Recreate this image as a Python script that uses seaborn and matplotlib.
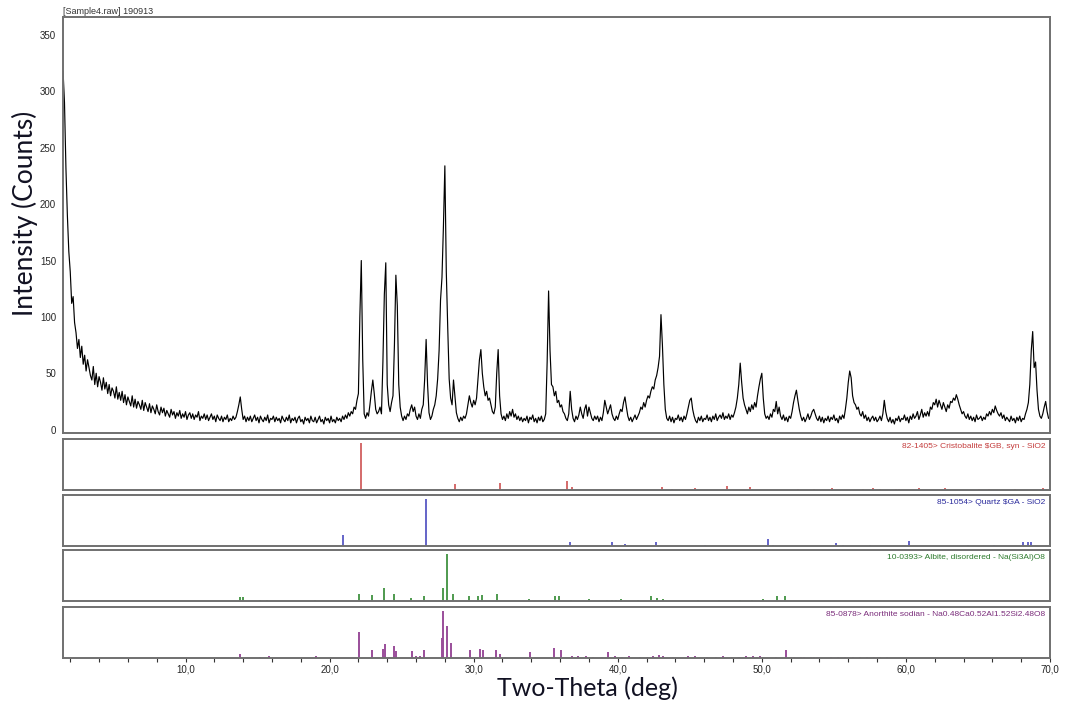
import numpy as np
import pandas as pd
import seaborn as sns
import matplotlib.pyplot as plt

# scan: 1.5 .. 69.9 deg, step 0.1 (one row = 1 deg)
scan_start = 1.5
scan_step = 0.1
counts = [
    318, 290, 232, 190, 158, 140, 112, 118, 95, 86,     # 1.5
    72, 80, 64, 74, 58, 66, 52, 62, 55, 48,             # 2.5
    44, 56, 40, 50, 38, 47, 42, 35, 46, 36,             # 3.5
    42, 32, 40, 30, 37, 34, 28, 38, 27, 33,             # 4.5
    26, 34, 24, 31, 22, 29, 25, 21, 30, 20,             # 5.5
    27, 19, 25, 22, 18, 26, 17, 24, 20, 16,             # 6.5
    23, 15, 21, 18, 14, 22, 16, 13, 20, 15,             # 7.5
    19, 12, 17, 14, 11, 18, 13, 16, 10, 15,             # 8.5
    12, 17, 10, 14, 11, 16, 9, 13, 15, 10,              # 9.5
    14, 9, 13, 11, 16, 8, 12, 10, 14, 9,                # 10.5
    13, 8, 11, 14, 9, 12, 7, 13, 10, 8,                 # 11.5
    12, 7, 11, 9, 13, 7, 10, 8, 12, 9,                  # 12.5
    11, 16, 22, 29, 18, 9, 12, 7, 11, 8,                # 13.5
    12, 7, 10, 13, 8, 11, 6, 12, 9, 7,                  # 14.5
    11, 8, 13, 6, 10, 9, 12, 7, 11, 8,                  # 15.5
    10, 6, 12, 9, 7, 11, 8, 13, 6, 10,                  # 16.5
    8, 11, 6, 10, 12, 7, 9, 5, 11, 8,                   # 17.5
    10, 6, 12, 8, 7, 11, 6, 9, 12, 7,                   # 18.5
    9, 5, 11, 8, 10, 6, 12, 7, 9, 6,                    # 19.5
    11, 8, 10, 7, 12, 9, 13, 10, 15, 12,                # 20.5
    16, 14, 20, 18, 26, 32, 100, 150, 62, 14,           # 21.5
    10, 15, 12, 22, 34, 44, 32, 18, 14, 16,             # 22.5
    20, 14, 60, 120, 148, 40, 22, 16, 24, 30,           # 23.5
    75, 137, 110, 40, 20, 12, 8, 12, 9, 14,             # 24.5
    12, 18, 22, 16, 20, 12, 9, 14, 10, 18,              # 25.5
    22, 45, 80, 40, 15, 9, 12, 18, 22, 30,              # 26.5
    45, 70, 115, 135, 180, 234, 140, 90, 45, 28,        # 27.5
    22, 44, 30, 15, 10, 7, 11, 8, 12, 10,               # 28.5
    14, 22, 30, 24, 20, 26, 22, 28, 45, 62,             # 29.5
    71, 50, 38, 30, 34, 26, 28, 22, 16, 14,             # 30.5
    20, 50, 71, 30, 14, 9, 12, 8, 14, 10,               # 31.5
    16, 12, 18, 11, 14, 9, 12, 8, 11, 7,                # 32.5
    10, 8, 12, 6, 11, 9, 13, 7, 10, 6,                  # 33.5
    11, 8, 12, 7, 9, 14, 60, 123, 70, 40,               # 34.5
    38, 30, 34, 24, 26, 20, 22, 16, 14, 10,             # 35.5
    8, 14, 34, 18, 10, 7, 12, 9, 13, 20,                # 36.5
    14, 10, 18, 22, 12, 20, 15, 10, 8, 12,              # 37.5
    9, 12, 7, 11, 8, 15, 26, 20, 14, 18,                # 38.5
    22, 14, 10, 8, 12, 9, 14, 18, 16, 24,               # 39.5
    29, 20, 12, 8, 11, 7, 10, 13, 9, 12,                # 40.5
    15, 20, 18, 24, 20, 26, 30, 28, 34, 38,             # 41.5
    36, 44, 48, 55, 65, 102, 75, 40, 18, 10,            # 42.5
    8, 12, 7, 11, 6, 10, 9, 13, 8, 11,                  # 43.5
    7, 12, 9, 14, 20, 26, 28, 18, 12, 8,                # 44.5
    6, 11, 8, 12, 7, 10, 9, 13, 8, 11,                  # 45.5
    7, 12, 9, 14, 8, 11, 13, 10, 15, 9,                 # 46.5
    12, 10, 14, 9, 13, 11, 15, 20, 28, 40,              # 47.5
    59, 42, 28, 22, 18, 14, 20, 16, 22, 18,             # 48.5
    24, 20, 30, 38, 45, 50, 28, 14, 10, 12,             # 49.5
    9, 14, 11, 18, 16, 25, 14, 20, 12, 9,               # 50.5
    13, 8, 11, 7, 12, 10, 16, 24, 30, 35,               # 51.5
    26, 18, 12, 8, 11, 7, 10, 14, 9, 12,                # 52.5
    16, 18, 14, 10, 8, 12, 7, 11, 6, 10,                # 53.5
    8, 12, 7, 11, 9, 13, 8, 10, 6, 12,                  # 54.5
    9, 13, 10, 18, 28, 42, 52, 46, 30, 24,              # 55.5
    22, 18, 20, 14, 12, 16, 10, 13, 8, 11,              # 56.5
    7, 10, 12, 8, 11, 7, 9, 12, 8, 14,                  # 57.5
    26, 16, 10, 7, 11, 6, 9, 5, 10, 8,                  # 58.5
    12, 7, 10, 9, 13, 8, 11, 6, 12, 9,                  # 59.5
    14, 10, 12, 16, 9, 13, 18, 11, 15, 12,              # 60.5
    16, 12, 20, 18, 24, 22, 27, 20, 26, 22,             # 61.5
    18, 24, 20, 16, 22, 19, 25, 24, 28, 26,             # 62.5
    31, 27, 22, 18, 14, 16, 12, 10, 14, 9,              # 63.5
    12, 8, 11, 7, 13, 9, 10, 12, 8, 11,                 # 64.5
    9, 14, 12, 16, 13, 18, 15, 21, 17, 14,              # 65.5
    12, 15, 10, 13, 8, 11, 9, 7, 12, 8,                 # 66.5
    10, 6, 11, 8, 12, 7, 10, 9, 14, 18,                 # 67.5
    24, 40, 70, 87, 55, 60, 35, 18, 12, 10,             # 68.5
    14, 20, 25, 16, 10,                                 # 69.5
]
two_theta = scan_start + scan_step * np.arange(len(counts))

# reference patterns (position, relative intensity)
cristobalite_pos = [22.2, 25.5, 28.7, 31.85, 36.47, 36.84, 43.1, 43.75, 45.37, 47.6,
                    49.2, 52.5, 53.6, 54.85, 57.0, 57.7, 58.2, 59.3, 59.5, 60.9,
                    62.7, 65.1, 65.75, 67.6, 69.5]
cristobalite_int = [100, 3, 13, 15, 18, 6, 6, 2, 4, 8,
                    6, 2, 2, 5, 2, 5, 3, 3, 3, 4,
                    4, 3, 3, 3, 5]
quartz_pos = [20.9, 26.7, 36.7, 39.6, 40.5, 42.65, 46.06, 50.4, 50.8, 55.15,
              55.6, 57.5, 60.2, 64.3, 66.1, 68.1, 68.45, 68.7]
quartz_int = [23, 100, 9, 9, 4, 8, 3, 14, 3, 6,
              3, 3, 11, 3, 3, 8, 8, 8]
albite_pos = [13.81, 13.97, 15.15, 15.66, 18.97, 22.07, 22.95, 23.75, 24.5, 25.67,
              26.52, 27.86, 28.13, 28.6, 29.71, 30.3, 30.6, 31.65, 33.86, 35.66,
              35.9, 36.74, 38.0, 39.24, 39.58, 39.86, 40.2, 41.4, 42.3, 42.7,
              43.17, 45.57, 47.0, 48.5, 49.3, 50.1, 51.03, 51.6]
albite_int = [9, 9, 3, 3, 3, 15, 12, 28, 14, 7,
              10, 28, 100, 14, 10, 10, 13, 14, 4, 10,
              10, 3, 5, 3, 3, 3, 4, 3, 10, 7,
              5, 3, 3, 3, 3, 4, 10, 10]
anorthite_pos = [13.8, 15.15, 15.78, 19.06, 22.02, 22.95, 23.69, 23.87, 24.45, 24.6,
                 25.7, 26.0, 26.25, 26.57, 27.8, 27.9, 28.13, 28.43, 29.76, 30.46,
                 30.63, 31.55, 31.85, 32.2, 33.9, 35.6, 36.05, 36.8, 37.27, 37.8,
                 38.3, 38.9, 39.35, 39.8, 40.28, 40.8, 41.55, 42.0, 42.42, 42.88,
                 43.17, 43.86, 44.9, 45.37, 46.2, 46.8, 47.3, 47.9, 48.4, 48.9,
                 49.4, 49.65, 49.9, 50.1, 51.0, 51.7, 52.0, 52.2, 52.7, 52.9,
                 53.4, 53.6, 53.8, 54.0, 54.8, 55.3, 55.8, 56.3, 56.8, 57.3,
                 57.8, 58.2, 58.7]
anorthite_int = [9, 3, 4, 4, 55, 16, 20, 29, 26, 14,
                 14, 5, 4, 18, 43, 100, 68, 31, 18, 19,
                 16, 18, 8, 2, 12, 22, 16, 4, 4, 4,
                 3, 3, 12, 4, 3, 5, 3, 3, 5, 6,
                 5, 3, 4, 4, 3, 3, 4, 3, 3, 4,
                 4, 3, 4, 3, 3, 16, 3, 3, 3, 3,
                 3, 3, 3, 3, 2, 3, 2, 3, 2, 3,
                 2, 3, 2]

cards = [
    ("82-1405> Cristobalite $GB, syn - SiO2", cristobalite_pos, cristobalite_int, "#d46a6a", "#c43c3c"),
    ("85-1054> Quartz $GA - SiO2", quartz_pos, quartz_int, "#6464c8", "#2a2a9c"),
    ("10-0393> Albite, disordered - Na(Si3Al)O8", albite_pos, albite_int, "#4e9a4e", "#2c7a2c"),
    ("85-0878> Anorthite sodian - Na0.48Ca0.52Al1.52Si2.48O8", anorthite_pos, anorthite_int, "#9a4e9a", "#7a2c7a"),
]

sns.set_theme(style="white")
plt.rcParams['font.family'] = ['Liberation Sans', 'DejaVu Sans']

fig = plt.figure(figsize=(10.65, 7.01), dpi=100, facecolor='white')
frame_color = '#707070'

# main pattern
ax = fig.add_axes([0.0592, 0.3823, 0.9267, 0.5934])
df = pd.DataFrame({'two_theta': two_theta, 'counts': counts})
sns.lineplot(data=df, x='two_theta', y='counts', ax=ax, color='black',
             linewidth=0.85, estimator=None, sort=False)
ax.set_xlim(1.5, 70)
ax.set_ylim(-3, 366)
ax.set_yticks(np.arange(0, 351, 50))
ax.set_xticks([])
ax.set_xlabel('')
ax.set_ylabel('')
ax.tick_params(axis='y', direction='out', length=3, width=0.8, labelsize=7, pad=2, color='#333333')
for s in ax.spines.values():
    s.set_color(frame_color)
    s.set_linewidth(1.4)
ax.text(0.0, 1.003, '[Sample4.raw] 190913', transform=ax.transAxes, fontsize=6.5,
        ha='left', va='bottom', color='#333333')
fig.text(0.0235, 0.696, 'Intensity (Counts)', rotation=90, ha='center', va='center',
         fontsize=19, family=['Lato', 'DejaVu Sans'], color='#111122')

# reference stick panels
panel_boxes = [0.3010, 0.2211, 0.1427, 0.0613]
panel_h = 0.0728
for (label, pos, inten, stick_col, text_col), bottom in zip(cards, panel_boxes):
    pax = fig.add_axes([0.0592, bottom, 0.9267, panel_h])
    pax.vlines(pos, 0, inten, color=stick_col, linewidth=1.4)
    pax.set_xlim(1.5, 70)
    pax.set_ylim(0, 108)
    pax.set_yticks([])
    pax.set_xticks([])
    for s in pax.spines.values():
        s.set_color(frame_color)
        s.set_linewidth(1.4)
    pax.text(0.995, 0.93, label, transform=pax.transAxes, ha='right', va='top',
             fontsize=6, color=text_col)

# x axis on the bottom panel
pax.set_xticks(np.arange(10, 71, 10))
pax.set_xticks(np.arange(2, 70, 2), minor=True)
pax.set_xticklabels(['%d,0' % v for v in range(10, 71, 10)])
pax.tick_params(axis='x', which='both', direction='out', bottom=True, length=3,
                width=0.8, labelsize=7, pad=2, color='#333333')
fig.text(0.5516, 0.0185, 'Two-Theta (deg)', ha='center', va='center',
         fontsize=18, family=['Lato', 'DejaVu Sans'], color='#111122')

plt.savefig('out.png', dpi=100, facecolor='white')
